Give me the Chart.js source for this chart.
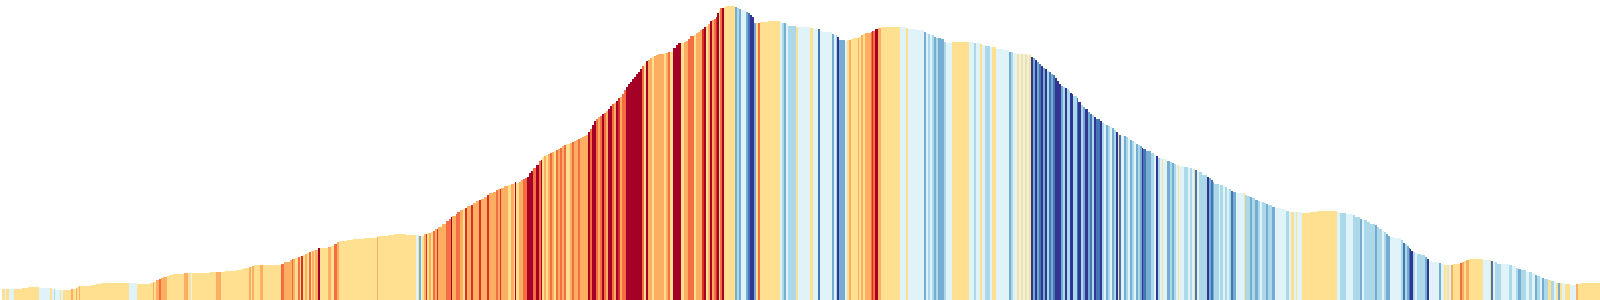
<!DOCTYPE html>
<html><head><meta charset="utf-8">
<script src="https://cdn.jsdelivr.net/npm/chart.js@4.4.1/dist/chart.umd.min.js"></script>
<style>html,body{margin:0;padding:0;background:#fff;overflow:hidden}canvas{display:block}</style>
</head><body>
<canvas id="c" width="1600" height="300"></canvas>
<script>
// Distance (km) where each stretch starts
const distanceKm = [
0.2,0.5,0.6,0.9,1.4,2.2,2.8,3.9,5.0,5.2,5.4,5.5,6.0,6.1,6.3,7.1,7.3,7.6,7.7,7.9,8.0,9.1,9.6,10.1,12.9,
13.7,15.0,15.3,15.4,15.6,15.9,16.1,16.3,16.7,16.9,17.3,18.4,18.8,19.1,19.2,21.0,21.6,22.1,22.5,23.6,24.1,24.4,24.9,25.1,25.2,25.4,26.0,26.3,
28.1,28.4,29.0,29.2,29.3,29.5,29.8,30.0,30.1,30.3,30.5,30.7,30.9,31.1,31.2,31.4,31.5,31.8,32.0,32.8,33.1,33.4,33.7,33.9,34.7,35.3,36.4,37.7,37.8,38.8,39.4,
40.6,41.6,41.8,41.9,42.1,42.2,42.4,42.6,42.7,42.9,43.1,43.3,43.5,43.7,43.8,44.2,44.6,44.9,45.1,45.2,45.6,45.7,46.0,46.3,46.5,46.7,47.1,47.3,47.6,47.9,48.1,48.4,48.7,48.9,49.3,49.6,49.8,50.0,50.1,50.4,50.8,51.1,51.4,51.5,51.6,51.9,52.1,52.3,52.5,52.7,52.9,53.1,53.3,
53.6,53.9,54.1,54.2,54.4,54.6,54.8,55.0,55.2,55.4,55.6,55.8,56.0,56.2,56.4,56.6,57.0,57.2,57.4,57.6,57.8,58.0,58.2,58.4,58.6,58.8,59.0,59.2,59.4,59.6,59.8,60.0,60.2,60.4,60.6,60.8,61.0,61.2,61.4,61.6,61.8,62.0,62.2,62.4,62.6,62.8,63.0,63.2,63.4,63.6,63.8,64.0,64.2,64.4,64.6,64.8,65.0,65.2,65.4,65.6,65.8,66.4,66.6,66.8,
67.0,67.3,67.6,67.8,68.1,68.4,68.6,68.8,69.0,69.4,69.6,69.8,70.0,70.2,70.4,70.6,70.8,71.0,71.2,71.4,71.6,71.7,71.9,72.0,72.2,72.4,72.6,73.5,73.7,73.9,74.1,74.6,74.8,75.0,75.2,75.4,75.6,75.8,76.0,76.2,76.8,78.0,78.2,78.4,78.6,78.8,79.2,79.6,79.8,
80.4,81.0,81.3,81.8,82.0,82.1,83.2,83.4,83.6,83.7,83.9,84.5,84.7,84.9,85.1,85.3,85.8,85.9,86.1,86.3,86.5,87.1,87.2,87.3,87.5,87.8,88.1,90.0,90.6,90.8,91.6,92.4,92.6,92.8,93.0,93.2,93.4,93.6,
93.8,94.1,94.4,94.6,95.2,96.9,97.4,97.6,98.0,98.2,98.5,99.0,99.2,99.6,100.3,100.9,101.1,101.3,101.7,101.9,102.1,102.3,102.5,102.7,102.9,103.1,103.3,103.5,103.7,103.9,104.1,104.3,104.5,104.7,104.9,105.1,105.3,105.5,105.7,105.9,106.1,106.3,106.5,106.7,106.9,107.0,
107.2,107.3,107.7,107.8,108.1,108.3,108.5,108.8,109.0,109.2,109.4,109.6,110.0,110.2,110.4,110.6,110.8,111.0,111.2,111.4,111.6,111.8,111.9,112.1,112.4,112.6,112.8,113.0,113.2,113.4,113.6,113.8,114.0,114.2,114.3,114.6,115.1,115.4,115.6,115.8,116.0,116.2,116.3,116.7,117.0,117.2,117.4,117.6,117.8,117.9,118.4,118.8,119.0,119.2,119.4,119.5,119.7,119.9,120.2,
120.7,120.9,121.1,121.3,121.4,121.9,122.0,122.3,122.5,122.7,122.9,123.1,123.3,123.6,124.4,124.5,124.7,125.0,125.2,125.5,125.8,126.0,126.2,126.4,126.6,126.8,127.2,127.5,128.1,128.6,128.9,129.1,129.4,129.6,129.7,130.2,131.0,131.7,133.7,
134.0,134.6,135.3,135.5,136.0,136.2,136.4,136.7,137.0,137.5,137.7,137.9,138.2,138.4,138.6,138.8,139.0,139.4,140.1,140.3,140.5,140.7,140.9,141.0,141.1,141.3,141.5,141.7,142.1,142.5,142.7,142.9,143.2,143.9,144.1,144.4,144.6,144.7,144.9,145.1,145.3,146.0,146.2,146.4,146.6,146.9,
148.3,149.0,149.1,149.3,149.5,149.7,150.1,150.9,151.2,151.6,151.8,152.1,152.6,152.9,153.2,153.5,153.7,154.0,154.2,154.4,154.8,155.1,155.4,155.6,155.8,156.0,156.2,156.5,157.0,157.6,157.8,158.1,160.0
];

// Elevation (m) of each stretch
const elevationM = [
110,110,110,110,110,120,130,120,120,110,110,100,100,100,100,110,110,120,130,140,140,150,160,170,170,
160,170,180,180,200,210,220,230,240,250,260,270,270,270,270,280,280,280,290,300,310,320,330,330,340,350,350,350,
360,380,400,410,410,420,430,440,440,450,460,470,480,490,490,500,500,520,520,530,540,560,580,590,600,610,620,630,640,650,660,
650,650,650,640,640,640,660,660,670,670,680,690,710,710,730,760,790,810,830,840,860,880,900,910,920,940,950,970,990,1000,1010,1030,1050,1070,1080,1100,1110,1110,1120,1140,1150,1160,1170,1180,1170,1180,1200,1210,1220,1230,1270,1290,1320,
1350,1390,1400,1430,1440,1450,1460,1470,1480,1490,1500,1510,1520,1540,1550,1560,1570,1580,1590,1600,1610,1620,1630,1640,1650,1680,1710,1750,1790,1810,1830,1840,1860,1870,1890,1910,1940,1960,1970,1990,2020,2030,2060,2100,2130,2160,2180,2210,2230,2260,2280,2310,2340,2370,2390,2400,2420,2430,2440,2450,2460,2470,2470,2480,
2480,2520,2550,2570,2570,2580,2590,2610,2640,2650,2670,2680,2700,2710,2730,2740,2760,2790,2800,2810,2830,2870,2900,2920,2920,2930,2940,2930,2920,2910,2900,2880,2870,2850,2830,2770,2770,2770,2780,2780,2790,2780,2770,2770,2760,2740,2740,2730,2730,
2730,2720,2710,2710,2690,2680,2660,2650,2650,2630,2600,2590,2600,2600,2610,2620,2620,2630,2650,2660,2670,2680,2690,2690,2710,2720,2730,2730,2720,2710,2700,2680,2670,2660,2650,2650,2630,2620,
2620,2610,2580,2570,2580,2580,2570,2570,2560,2550,2540,2530,2530,2510,2500,2480,2480,2470,2460,2460,2460,2460,2460,2450,2450,2430,2420,2400,2380,2360,2340,2320,2310,2290,2280,2260,2250,2220,2190,2160,2140,2130,2120,2110,2090,2070,
2060,2040,2020,1980,1950,1930,1910,1880,1860,1850,1830,1810,1790,1770,1760,1750,1740,1730,1720,1700,1680,1660,1650,1640,1640,1630,1620,1600,1590,1580,1560,1550,1540,1520,1510,1490,1470,1460,1440,1420,1420,1410,1410,1390,1380,1370,1360,1350,1350,1340,1330,1320,1320,1310,1310,1300,1290,1280,1250,
1230,1220,1200,1180,1160,1160,1150,1140,1130,1110,1110,1090,1080,1070,1070,1050,1040,1030,1020,1000,990,980,980,970,960,950,930,920,910,890,880,880,880,880,880,870,880,890,880,
870,860,850,830,810,800,800,780,760,750,730,710,690,680,660,640,630,620,600,570,560,540,520,510,490,480,470,460,450,430,410,390,380,370,360,350,350,350,350,350,360,370,380,390,400,410,
400,400,390,380,380,360,360,350,340,320,310,300,280,280,270,250,240,230,220,210,200,190,180,170,170,170,170,160,150,160,160,170,170
];

// Gradient class of each stretch: 1..5 climbing (steeper = higher), -1..-5 descending
const gradeClass = [
1,-1,1,-1,1,1,1,-1,1,-1,-2,-1,1,-1,1,2,1,2,1,2,1,1,1,1,-1,
1,1,2,1,2,3,2,2,1,1,1,2,1,-1,1,1,2,1,1,1,1,1,2,1,2,1,2,1,
3,2,2,3,2,1,3,1,4,1,2,1,3,1,2,1,2,5,1,2,1,3,2,1,1,1,1,2,1,1,1,
1,-1,1,-3,-1,1,2,4,1,2,1,3,2,4,2,2,3,3,5,2,3,3,2,1,4,2,4,2,2,4,2,2,4,2,2,3,2,4,2,2,1,2,1,5,1,2,2,3,3,5,5,5,3,
5,3,5,1,2,1,2,3,2,1,3,2,3,2,3,1,2,3,2,2,3,2,2,2,2,5,3,5,5,3,2,3,5,3,2,5,5,3,2,5,4,2,3,3,5,5,5,5,5,5,5,5,3,1,5,2,2,1,2,2,2,1,2,3,
1,5,5,5,1,2,2,3,3,1,2,2,2,4,5,1,2,5,2,3,4,5,1,3,5,1,1,-3,-2,-3,-1,-3,-4,-5,-5,-3,1,3,1,1,1,-1,-2,-3,-1,-2,-2,1,-1,
-1,1,-1,-4,-1,-1,-3,-1,-2,-5,-3,-1,1,2,1,1,2,1,2,1,2,3,4,3,5,2,1,-1,1,-1,-1,-3,-1,-2,-1,-2,-3,-2,
-3,-3,-2,-1,1,-1,-2,-1,1,-1,-2,-1,1,-1,-1,-3,-2,-1,1,-1,1,-1,1,-1,1,-5,-3,-5,-3,-4,-5,-3,-5,-2,-4,-3,-4,-5,-5,-5,-3,-2,-5,-2,-2,-5,
-5,-2,-4,-5,-2,-3,-5,-3,-4,-2,-5,-4,-5,-2,-1,-3,-2,-1,-3,-2,-5,1,-4,-1,-3,-2,-1,-3,-2,-1,-3,-2,-3,-5,-4,-3,-2,-1,-5,-2,-1,1,-1,-3,-2,-3,-2,-1,1,-1,-2,-1,-2,-1,1,-4,-1,-2,-2,
-5,-3,-4,-3,-2,-1,-2,-1,-2,-1,-2,-4,-3,-1,1,-2,-2,-3,-2,-3,-2,-1,-2,-2,-3,-2,-3,-1,-1,-2,-1,1,-1,1,-1,1,1,1,-1,
-2,-1,-2,-2,-3,-1,-2,-2,-2,-3,-2,-2,-1,-2,-3,-3,-1,-1,-2,-4,-2,-3,-4,-5,-5,-2,-1,-2,-2,-3,-5,-1,-1,-3,-1,1,-1,1,-1,2,1,3,2,1,2,1,
-1,1,-4,-1,-2,-2,-1,-2,-1,-2,-3,-2,-1,-2,-1,-3,-2,-1,-3,-2,1,-2,-1,1,-3,1,-1,1,-1,2,1,1,1
];

const gradeColors = {
  5:'#a50026', 4:'#d73027', 3:'#f46d43', 2:'#fdae61', 1:'#fee090',
  '-1':'#e0f3f8', '-2':'#abd9e9', '-3':'#74add1', '-4':'#4575b4', '-5':'#313695'
};

const points = distanceKm.map((d, i) => ({x: d, y: elevationM[i]}));

new Chart(document.getElementById('c'), {
  type: 'line',
  data: {
    datasets: [{
      data: points,
      stepped: true,
      fill: 'origin',
      pointRadius: 0,
      borderWidth: 0,
      borderColor: 'rgba(0,0,0,0)',
      backgroundColor: gradeColors[1],
      segment: {
        backgroundColor: ctx => gradeColors[gradeClass[ctx.p0DataIndex]]
      }
    }]
  },
  options: {
    responsive: false,
    animation: false,
    devicePixelRatio: 1,
    events: [],
    layout: {padding: 0},
    scales: {
      x: {type: 'linear', min: 0, max: 160, display: false},
      y: {min: 0, max: 3000, display: false}
    },
    plugins: {legend: {display: false}, tooltip: {enabled: false}}
  }
});
</script>
</body></html>
